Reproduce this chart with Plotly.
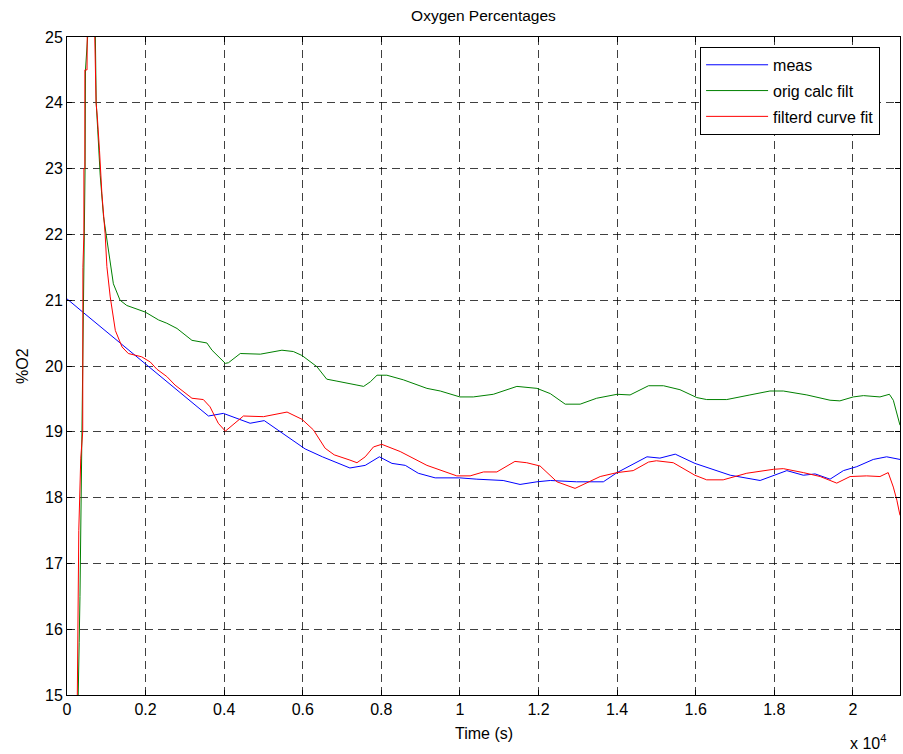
import plotly.graph_objects as go

# ---- data (time in seconds, %O2) ----
meas_t = [0, 380, 3600, 3980, 4660, 5020, 6060, 6500, 7200, 7590, 7950, 8270, 8610, 8940, 9370,
          10000, 10430, 11100, 11530, 11960, 12300, 12970, 13650, 14000, 14760, 15090, 15480,
          15980, 16880, 17640, 18320, 18740, 19040, 19420, 19760, 20100, 20520, 20860, 21200]
meas_y = [21.02, 20.83, 19.24, 19.28, 19.13, 19.17, 18.74, 18.62, 18.45, 18.49, 18.62, 18.52, 18.49, 18.37, 18.30,
          18.30, 18.28, 18.26, 18.20, 18.24, 18.26, 18.24, 18.24, 18.38, 18.62, 18.60, 18.66,
          18.52, 18.34, 18.26, 18.41, 18.34, 18.36, 18.28, 18.41, 18.47, 18.58, 18.62, 18.58]

calc_t = [270, 285, 300, 310, 330, 360, 400, 440, 460, 470, 547, 600, 680, 718, 743, 781, 820, 845,
          930, 1015, 1100, 1180, 1350, 1520, 1990, 2330, 2540, 2800, 3180, 3560, 3690, 4030, 4110,
          4410, 4920, 5470, 5760, 5980, 6360, 6610, 6870, 7160, 7380, 7550, 7720, 7890, 8140, 8560,
          9160, 9500, 10000, 10340, 10850, 11450, 11960, 12300, 12680, 13060, 13480, 14000, 14330,
          14800, 15180, 15600, 16030, 16280, 16790, 17380, 17890, 18230, 18830, 19420, 19670,
          20010, 20270, 20690, 20930, 21030, 21120, 21200]
calc_y = [14.5, 15.4, 15.4, 15.8, 16.5, 18.0, 20.0, 22.5, 23.0, 24.5, 25.2, 27.0, 27.0, 25.2, 24.0, 23.6, 23.1, 22.9,
          22.27, 21.91, 21.56, 21.25, 21.0, 20.92, 20.82, 20.70, 20.65, 20.57, 20.39, 20.35, 20.24, 20.04, 20.05,
          20.19, 20.18, 20.24, 20.22, 20.16, 19.99, 19.80, 19.77, 19.73, 19.71, 19.69, 19.76, 19.86, 19.86, 19.79,
          19.66, 19.62, 19.53, 19.53, 19.57, 19.69, 19.66, 19.58, 19.42, 19.42, 19.51, 19.57, 19.56,
          19.70, 19.70, 19.64, 19.52, 19.49, 19.49, 19.56, 19.62, 19.62, 19.56, 19.48, 19.47,
          19.53, 19.55, 19.53, 19.57, 19.48, 19.28, 19.10]

fit_t = [255, 275, 300, 350, 400, 405, 430, 430, 455, 455, 510, 520, 560, 640, 690, 700, 715, 740, 770,
         800, 827, 888, 970, 1015, 1100, 1230, 1400, 1560, 1900, 2120, 2290, 2540, 2750, 3180, 3470,
         3640, 3850, 4030, 4200, 4490, 5000, 5600, 5980, 6270, 6570, 6800, 7200, 7380, 7590, 7800,
         8010, 8480, 9160, 9920, 10260, 10600, 10940, 11400, 11700, 12040, 12470, 12930, 13570,
         14000, 14410, 14800, 15000, 15430, 15980, 16280, 16700, 17300, 17980, 18230, 18740, 19170,
         19590, 19930, 20350, 20690, 20900, 21030, 21120, 21200]
fit_y = [14.5, 16.0, 17.5, 18.6, 19.0, 21.5, 22.0, 23.0, 23.0, 24.5, 24.5, 25.5, 27.0, 27.0, 25.5, 25.0, 24.5, 24.0, 23.8,
         23.4, 23.28, 22.62, 22.01, 21.51, 21.05, 20.54, 20.29, 20.19, 20.14, 20.06, 19.95, 19.84, 19.71, 19.51, 19.49,
         19.38, 19.13, 19.01, 19.10, 19.24, 19.23, 19.30, 19.19, 19.03, 18.75, 18.65, 18.57, 18.53, 18.62, 18.77,
         18.81, 18.70, 18.49, 18.33, 18.33, 18.39, 18.39, 18.55, 18.53, 18.48, 18.24, 18.14, 18.32,
         18.38, 18.41, 18.54, 18.56, 18.53, 18.34, 18.27, 18.27, 18.37, 18.43, 18.44, 18.38, 18.32,
         18.22, 18.32, 18.33, 18.32, 18.38, 18.16, 17.96, 17.73]

x_tickvals = [0, 2000, 4000, 6000, 8000, 10000, 12000, 14000, 16000, 18000, 20000]
x_ticktext = ["0", "0.2", "0.4", "0.6", "0.8", "1", "1.2", "1.4", "1.6", "1.8", "2"]
y_tickvals = [15, 16, 17, 18, 19, 20, 21, 22, 23, 24, 25]

FONT = "Liberation Sans, Arial, Helvetica, sans-serif"
FS = 16

fig = go.Figure()
fig.add_trace(go.Scatter(x=meas_t, y=meas_y, mode="lines", name="meas", legendgroup="a",
                         line=dict(color="#0000ff", width=1)))
fig.add_trace(go.Scatter(x=calc_t, y=calc_y, mode="lines", name="orig calc filt", legendgroup="b",
                         line=dict(color="#008000", width=1)))
fig.add_trace(go.Scatter(x=fit_t, y=fit_y, mode="lines", name="filterd curve fit", legendgroup="c",
                         line=dict(color="#ff0000", width=1)))

axis_common = dict(showline=True, linecolor="black", linewidth=1, mirror="ticks",
                   ticks="inside", ticklen=5, tickcolor="black",
                   showgrid=True, gridcolor="rgba(0,0,0,0.75)", gridwidth=1, griddash="8px,5px",
                   zeroline=False, tickfont=dict(family=FONT, size=FS, color="black"))

fig.update_xaxes(range=[0, 21200], tickvals=x_tickvals, ticktext=x_ticktext, **axis_common)
fig.update_yaxes(range=[15, 25], tickvals=y_tickvals, **axis_common)

fig.update_layout(
    width=903, height=754,
    margin=dict(l=67, r=3, t=37, b=59),
    paper_bgcolor="white", plot_bgcolor="white",
    font=dict(family=FONT, size=FS, color="black"),
    title=dict(text="Oxygen Percentages", x=0.5, xref="paper", y=0.980, yref="container",
               xanchor="center", yanchor="middle", font=dict(family=FONT, size=15.5, color="black")),
    showlegend=True,
    legend=dict(x=0.76, y=0.985, xanchor="left", yanchor="top",
                bgcolor="white", bordercolor="black", borderwidth=1,
                itemwidth=62, font=dict(family=FONT, size=FS, color="black"),
                tracegroupgap=2),
    annotations=[
        dict(text="Time (s)", xref="paper", yref="paper", x=0.5, y=-0.058,
             xanchor="center", yanchor="middle", showarrow=False,
             font=dict(family=FONT, size=FS, color="black")),
        dict(text="%O2", xref="paper", yref="paper", x=-0.054, y=0.5, textangle=-90,
             xanchor="center", yanchor="middle", showarrow=False,
             font=dict(family=FONT, size=FS, color="black")),
        dict(text="x 10<sup>4</sup>", xref="paper", yref="paper", x=0.962, y=-0.071,
             xanchor="center", yanchor="middle", showarrow=False,
             font=dict(family=FONT, size=FS, color="black")),
    ],
)

fig.write_html("out.html")
